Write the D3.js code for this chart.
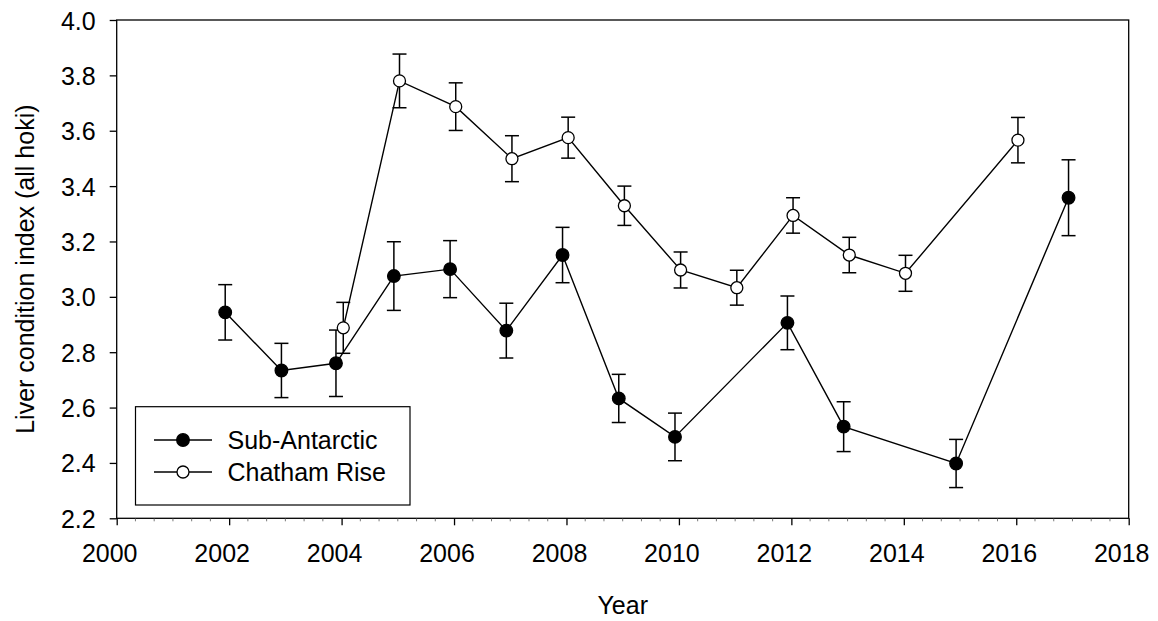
<!DOCTYPE html>
<html>
<head>
<meta charset="utf-8">
<script src="https://cdn.jsdelivr.net/npm/d3@7"></script>
<style>
  html, body { margin: 0; padding: 0; background: #fff; }
  svg { display: block; }
  text { font-family: Arial, "Liberation Sans", sans-serif; fill: #000; }
</style>
</head>
<body>
<svg id="chart" width="1158" height="621"></svg>
<script>
// ---- Data ----
const subYears  = [2001.93, 2002.93, 2003.90, 2004.93, 2005.93, 2006.93, 2007.93, 2008.93, 2009.93, 2011.93, 2012.93, 2014.93, 2016.93];
const subValues = [2.944, 2.734, 2.760, 3.075, 3.100, 2.878, 3.151, 2.633, 2.494, 2.906, 2.531, 2.398, 3.358];
const subErrors = [0.100, 0.098, 0.120, 0.124, 0.103, 0.099, 0.100, 0.087, 0.086, 0.097, 0.090, 0.087, 0.137];

const chaYears  = [2004.03, 2005.03, 2006.03, 2007.03, 2008.03, 2009.03, 2010.03, 2011.03, 2012.03, 2013.03, 2014.03, 2016.03];
const chaValues = [2.888, 3.780, 3.687, 3.499, 3.575, 3.329, 3.097, 3.033, 3.294, 3.151, 3.085, 3.566];
const chaErrors = [0.092, 0.097, 0.086, 0.083, 0.074, 0.071, 0.065, 0.063, 0.064, 0.064, 0.065, 0.082];

const xTicks = [2000, 2002, 2004, 2006, 2008, 2010, 2012, 2014, 2016, 2018];
const yTicks = [2.2, 2.4, 2.6, 2.8, 3.0, 3.2, 3.4, 3.6, 3.8, 4.0];
const seriesNames = ["Sub-Antarctic", "Chatham Rise"];
const xTitle = "Year";
const yTitle = "Liver condition index (all hoki)";

// ---- Layout ----
const svg = d3.select("#chart");
const L = 116.7, R = 1128.7, T = 20, B = 518.3;
const x = d3.scaleLinear().domain([2000, 2018]).range([L, R]);
const y = d3.scaleLinear().domain([2.2, 4.0]).range([B, T]);
const FS = 25;

// frame
svg.append("rect").attr("x", L).attr("y", T).attr("width", R - L).attr("height", B - T)
  .attr("fill", "none").attr("stroke", "#000").attr("stroke-width", 1.3);

// x axis
const xAxis = svg.append("g").attr("transform", `translate(0,${B})`)
  .call(d3.axisBottom(x).tickValues(xTicks).tickSize(7).tickFormat(d3.format("d")));
xAxis.select(".domain").remove();
xAxis.selectAll(".tick line").attr("stroke-width", 1.3);
xAxis.selectAll(".tick text").attr("font-size", FS).attr("font-family", "Arial, 'Liberation Sans', sans-serif")
  .attr("dx", -7.5).attr("y", 0).attr("dy", 0).attr("transform", "translate(0,43.5)");

// minor x ticks every 1/3 year
const minor = d3.range(0, 54).map(i => 2000 + i / 3).filter((d, i) => i % 6 !== 0);
svg.append("g").selectAll("line").data(minor).join("line")
  .attr("x1", d => x(d)).attr("x2", d => x(d))
  .attr("y1", B).attr("y2", B + 3)
  .attr("stroke", "#555").attr("stroke-width", 0.8);

// y axis
const yAxis = svg.append("g").attr("transform", `translate(${L},0)`)
  .call(d3.axisLeft(y).tickValues(yTicks).tickSize(7).tickFormat(d3.format(".1f")));
yAxis.select(".domain").remove();
yAxis.selectAll(".tick line").attr("stroke-width", 1.3);
yAxis.selectAll(".tick text").attr("font-size", FS).attr("font-family", "Arial, 'Liberation Sans', sans-serif")
  .attr("x", -21).attr("dy", "0.36em");

// titles
svg.append("text").attr("x", (L + R) / 2).attr("y", 614).attr("text-anchor", "middle")
  .attr("font-size", FS).text(xTitle);
svg.append("text").attr("transform", `translate(34,${(T + B) / 2}) rotate(-90)`)
  .attr("text-anchor", "middle").attr("font-size", FS).text(yTitle);

// series
function drawSeries(years, values, errors, fill, r) {
  const pts = years.map((yr, i) => ({ x: yr, y: values[i], e: errors[i] }));
  const g = svg.append("g");
  g.append("path").datum(pts)
    .attr("d", d3.line().x(d => x(d.x)).y(d => y(d.y)))
    .attr("fill", "none").attr("stroke", "#000").attr("stroke-width", 1.4);
  const eb = g.append("g").attr("stroke", "#000").attr("stroke-width", 1.5);
  eb.selectAll("line.v").data(pts).join("line").attr("class", "v")
    .attr("x1", d => x(d.x)).attr("x2", d => x(d.x))
    .attr("y1", d => y(d.y + d.e)).attr("y2", d => y(d.y - d.e));
  eb.selectAll("line.t").data(pts).join("line").attr("class", "t")
    .attr("x1", d => x(d.x) - 7).attr("x2", d => x(d.x) + 7)
    .attr("y1", d => y(d.y + d.e)).attr("y2", d => y(d.y + d.e));
  eb.selectAll("line.b").data(pts).join("line").attr("class", "b")
    .attr("x1", d => x(d.x) - 7).attr("x2", d => x(d.x) + 7)
    .attr("y1", d => y(d.y - d.e)).attr("y2", d => y(d.y - d.e));
  g.selectAll("circle").data(pts).join("circle")
    .attr("cx", d => x(d.x)).attr("cy", d => y(d.y)).attr("r", r)
    .attr("fill", fill).attr("stroke", "#000").attr("stroke-width", 1.3);
}
drawSeries(subYears, subValues, subErrors, "#000", 6.3);
drawSeries(chaYears, chaValues, chaErrors, "#fff", 6);

// legend
const lg = svg.append("g");
lg.append("rect").attr("x", 135.5).attr("y", 406.7).attr("width", 274.5).attr("height", 98.3)
  .attr("fill", "#fff").attr("stroke", "#000").attr("stroke-width", 1.2);
const legendRows = [
  { name: seriesNames[0], fill: "#000", r: 6.3, cy: 440 },
  { name: seriesNames[1], fill: "#fff", r: 6, cy: 472 }
];
legendRows.forEach(row => {
  lg.append("line").attr("x1", 154).attr("x2", 212).attr("y1", row.cy).attr("y2", row.cy)
    .attr("stroke", "#000").attr("stroke-width", 1.4);
  lg.append("circle").attr("cx", 183).attr("cy", row.cy).attr("r", row.r)
    .attr("fill", row.fill).attr("stroke", "#000").attr("stroke-width", 1.3);
  lg.append("text").attr("x", 227.5).attr("y", row.cy).attr("dy", "0.36em")
    .attr("font-size", FS).text(row.name);
});
</script>
</body>
</html>
